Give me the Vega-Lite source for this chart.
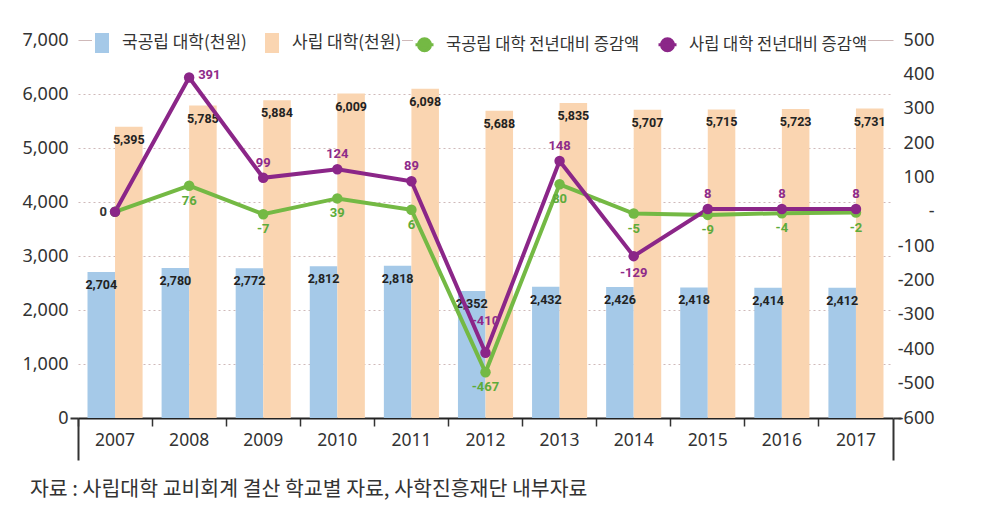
{
  "$schema": "https://vega.github.io/schema/vega-lite/v6.json",
  "width": 815,
  "height": 378,
  "autosize": {"type": "none"},
  "padding": {"left": 78, "top": 40, "right": 88, "bottom": 90},
  "background": "white",
  "config": {"view": {"stroke": null}, "font": "Noto Sans CJK KR"},
  "title": {
    "text": "자료 : 사립대학 교비회계 결산 학교별 자료, 사학진흥재단 내부자료",
    "orient": "bottom", "anchor": "start", "frame": "group", "dx": -48, "offset": 19,
    "fontSize": 20.5, "fontWeight": "normal", "color": "#333", "font": "Noto Sans CJK KR"
  },
  "datasets": {
    "bars": [
      {"year": "2007", "kind": "국공립 대학(천원)", "value": 2704}, {"year": "2007", "kind": "사립 대학(천원)", "value": 5395},
      {"year": "2008", "kind": "국공립 대학(천원)", "value": 2780}, {"year": "2008", "kind": "사립 대학(천원)", "value": 5785},
      {"year": "2009", "kind": "국공립 대학(천원)", "value": 2772}, {"year": "2009", "kind": "사립 대학(천원)", "value": 5884},
      {"year": "2010", "kind": "국공립 대학(천원)", "value": 2812}, {"year": "2010", "kind": "사립 대학(천원)", "value": 6009},
      {"year": "2011", "kind": "국공립 대학(천원)", "value": 2818}, {"year": "2011", "kind": "사립 대학(천원)", "value": 6098},
      {"year": "2012", "kind": "국공립 대학(천원)", "value": 2352}, {"year": "2012", "kind": "사립 대학(천원)", "value": 5688},
      {"year": "2013", "kind": "국공립 대학(천원)", "value": 2432}, {"year": "2013", "kind": "사립 대학(천원)", "value": 5835},
      {"year": "2014", "kind": "국공립 대학(천원)", "value": 2426}, {"year": "2014", "kind": "사립 대학(천원)", "value": 5707},
      {"year": "2015", "kind": "국공립 대학(천원)", "value": 2418}, {"year": "2015", "kind": "사립 대학(천원)", "value": 5715},
      {"year": "2016", "kind": "국공립 대학(천원)", "value": 2414}, {"year": "2016", "kind": "사립 대학(천원)", "value": 5723},
      {"year": "2017", "kind": "국공립 대학(천원)", "value": 2412}, {"year": "2017", "kind": "사립 대학(천원)", "value": 5731}
    ],
    "chg": [
      {"year": "2007", "series": "국공립 대학 전년대비 증감액", "value": 0},
      {"year": "2008", "series": "국공립 대학 전년대비 증감액", "value": 76},
      {"year": "2009", "series": "국공립 대학 전년대비 증감액", "value": -7},
      {"year": "2010", "series": "국공립 대학 전년대비 증감액", "value": 39},
      {"year": "2011", "series": "국공립 대학 전년대비 증감액", "value": 6},
      {"year": "2012", "series": "국공립 대학 전년대비 증감액", "value": -467},
      {"year": "2013", "series": "국공립 대학 전년대비 증감액", "value": 80},
      {"year": "2014", "series": "국공립 대학 전년대비 증감액", "value": -5},
      {"year": "2015", "series": "국공립 대학 전년대비 증감액", "value": -9},
      {"year": "2016", "series": "국공립 대학 전년대비 증감액", "value": -4},
      {"year": "2017", "series": "국공립 대학 전년대비 증감액", "value": -2},
      {"year": "2007", "series": "사립 대학 전년대비 증감액", "value": 0},
      {"year": "2008", "series": "사립 대학 전년대비 증감액", "value": 391},
      {"year": "2009", "series": "사립 대학 전년대비 증감액", "value": 99},
      {"year": "2010", "series": "사립 대학 전년대비 증감액", "value": 124},
      {"year": "2011", "series": "사립 대학 전년대비 증감액", "value": 89},
      {"year": "2012", "series": "사립 대학 전년대비 증감액", "value": -410},
      {"year": "2013", "series": "사립 대학 전년대비 증감액", "value": 148},
      {"year": "2014", "series": "사립 대학 전년대비 증감액", "value": -129},
      {"year": "2015", "series": "사립 대학 전년대비 증감액", "value": 8},
      {"year": "2016", "series": "사립 대학 전년대비 증감액", "value": 8},
      {"year": "2017", "series": "사립 대학 전년대비 증감액", "value": 8}
    ]
  },
  "layer": [
    {
      "data": {"name": "bars"},
      "encoding": {
        "x": {
          "field": "year", "type": "nominal",
          "scale": {"paddingInner": 0, "paddingOuter": 0},
          "axis": {
            "orient": "bottom", "bandPosition": 0, "tickExtra": false, "tickSize": 8, "tickWidth": 1.5, "tickColor": "#333",
            "domainColor": "#222", "domainWidth": 2, "labelAngle": 0, "labelFontSize": 17.5,
            "labelFont": "Noto Sans", "labelColor": "#333", "labelPadding": 5, "title": null, "grid": false
          }
        },
        "xOffset": {
          "field": "kind", "type": "nominal",
          "scale": {"domain": ["국공립 대학(천원)", "사립 대학(천원)"], "paddingOuter": 0.345, "paddingInner": 0}
        },
        "y": {
          "field": "value", "type": "quantitative",
          "scale": {"domain": [0, 7000], "nice": false},
          "axis": {
            "orient": "left", "values": [0, 1000, 2000, 3000, 4000, 5000, 6000, 7000],
            "labelExpr": "format(datum.value, ',')",
            "grid": true, "gridColor": "#cfb9b9", "gridWidth": 1.2,
            "gridDash": {"condition": {"test": "datum.value === 7000", "value": []}, "value": [2, 3]},
            "domain": false, "tickSize": 8, "tickWidth": 2,
            "tickColor": {"condition": {"test": "datum.value === 0", "value": "#333"}, "value": "transparent"},
            "labelFontSize": 18, "labelFont": "Noto Sans", "labelColor": "#333", "labelPadding": 2, "title": null
          }
        }
      },
      "layer": [
        {
          "mark": {"type": "bar"},
          "encoding": {
            "fill": {
              "field": "kind", "type": "nominal",
              "scale": {"domain": ["국공립 대학(천원)", "사립 대학(천원)"], "range": ["#a5c9e8", "#fad5b1"]},
              "legend": {
                "orient": "none", "legendX": 14, "legendY": -7, "direction": "horizontal", "title": null,
                "symbolType": "M-0.7,-1L0.7,-1L0.7,1L-0.7,1Z", "symbolSize": 400, "symbolStrokeWidth": 0,
                "labelFontSize": 17, "labelFont": "Noto Sans CJK KR", "labelColor": "#333", "labelOffset": 10,
                "labelLimit": 400, "columnPadding": 15, "fillColor": "white", "padding": 0
              }
            }
          }
        },
        {
          "mark": {"type": "text", "dy": 13, "baseline": "middle", "fontSize": 12.5, "fontWeight": "bold", "font": "Roboto", "color": "#222"},
          "encoding": {"text": {"field": "value", "type": "quantitative", "format": ","}}
        }
      ]
    },
    {
      "data": {"name": "chg"},
      "encoding": {
        "x": {
          "field": "year", "type": "nominal",
          "scale": {"paddingInner": 0, "paddingOuter": 0},
          "axis": {
            "orient": "bottom", "values": ["2007"], "bandPosition": 0, "tickExtra": false, "tickSize": 42, "tickWidth": 2,
            "tickColor": "#333", "labels": false, "domain": false, "grid": false, "title": null
          }
        },
        "y": {
          "field": "value", "type": "quantitative",
          "scale": {"domain": [-600, 500], "nice": false},
          "axis": {
            "orient": "right", "values": [-600, -500, -400, -300, -200, -100, 0, 100, 200, 300, 400, 500],
            "grid": false, "domain": false, "tickSize": 8, "tickWidth": 2,
            "tickColor": {"condition": {"test": "datum.value === -600", "value": "#333"}, "value": "transparent"},
            "labelAlign": "right", "labelPadding": 33, "labelExpr": "datum.value === 0 ? '-' : '' + datum.value",
            "labelFontSize": 18, "labelFont": "Noto Sans", "labelColor": "#333", "title": null
          }
        },
        "color": {
          "field": "series", "type": "nominal",
          "scale": {"domain": ["국공립 대학 전년대비 증감액", "사립 대학 전년대비 증감액"], "range": ["#74b944", "#8b2688"]},
          "legend": {
            "orient": "none", "legendX": 335, "legendY": -7, "direction": "horizontal", "title": null,
            "symbolType": "M-0.9,0L0.9,0M0.6,0A0.6,0.6,0,1,1,-0.6,0A0.6,0.6,0,1,1,0.6,0Z",
            "symbolSize": 400, "symbolStrokeWidth": 3,
            "labelFontSize": 16.5, "labelFont": "Noto Sans CJK KR", "labelColor": "#333", "labelOffset": 10,
            "labelLimit": 400, "columnPadding": 12, "fillColor": "white", "padding": 0,
            "encode": {"symbols": {"update": {"fill": {"scale": "color", "field": "value"}, "stroke": {"scale": "color", "field": "value"}, "opacity": {"value": 1}}}}
          }
        }
      },
      "layer": [
        {"mark": {"type": "line", "strokeWidth": 4}},
        {"mark": {"type": "point", "filled": true, "size": 110, "opacity": 1}},
        {
          "transform": [{"filter": "datum.series === '사립 대학 전년대비 증감액' && indexof(['2009','2010','2011','2013','2015','2016','2017'], datum.year) >= 0"}],
          "mark": {"type": "text", "dy": -15, "baseline": "middle", "fontSize": 13, "fontWeight": "bold", "font": "Roboto", "color": "#8e2b8a"},
          "encoding": {"text": {"field": "value", "type": "nominal"}, "color": {"value": "#8e2b8a"}}
        },
        {
          "transform": [{"filter": "datum.series === '사립 대학 전년대비 증감액' && datum.year === '2008'"}],
          "mark": {"type": "text", "dx": 9, "dy": -2, "align": "left", "baseline": "middle", "fontSize": 13, "fontWeight": "bold", "font": "Roboto", "color": "#8e2b8a"},
          "encoding": {"text": {"field": "value", "type": "nominal"}, "color": {"value": "#8e2b8a"}}
        },
        {
          "transform": [{"filter": "datum.series === '사립 대학 전년대비 증감액' && datum.year === '2012'"}],
          "mark": {"type": "text", "dy": -32, "baseline": "middle", "fontSize": 13, "fontWeight": "bold", "font": "Roboto", "color": "#8e2b8a"},
          "encoding": {"text": {"field": "value", "type": "nominal"}, "color": {"value": "#8e2b8a"}}
        },
        {
          "transform": [{"filter": "datum.series === '사립 대학 전년대비 증감액' && datum.year === '2014'"}],
          "mark": {"type": "text", "dy": 17, "baseline": "middle", "fontSize": 13, "fontWeight": "bold", "font": "Roboto", "color": "#8e2b8a"},
          "encoding": {"text": {"field": "value", "type": "nominal"}, "color": {"value": "#8e2b8a"}}
        },
        {
          "transform": [{"filter": "datum.series === '사립 대학 전년대비 증감액' && datum.year === '2007'"}],
          "mark": {"type": "text", "dx": -8, "align": "right", "baseline": "middle", "fontSize": 13, "fontWeight": "bold", "font": "Roboto", "color": "#333"},
          "encoding": {"text": {"field": "value", "type": "nominal"}, "color": {"value": "#333"}}
        }
      ]
    },
    {
      "data": {"name": "chg"},
      "transform": [{"filter": "datum.series === '국공립 대학 전년대비 증감액' && datum.year !== '2007'"}],
      "mark": {"type": "text", "dy": 15, "baseline": "middle", "fontSize": 13, "fontWeight": "bold", "font": "Roboto", "color": "#5dab3a"},
      "encoding": {
        "x": {
          "field": "year", "type": "nominal",
          "scale": {"paddingInner": 0, "paddingOuter": 0},
          "axis": {
            "orient": "bottom", "values": ["2017"], "bandPosition": 1, "tickExtra": false, "tickSize": 42, "tickWidth": 2,
            "tickColor": "#333", "labels": false, "domain": false, "grid": false, "title": null
          }
        },
        "y": {"field": "value", "type": "quantitative", "scale": {"domain": [-600, 500], "nice": false}, "axis": null},
        "text": {"field": "value", "type": "nominal"}
      }
    }
  ],
  "resolve": {"scale": {"y": "independent"}, "axis": {"x": "independent", "y": "independent"}}
}
